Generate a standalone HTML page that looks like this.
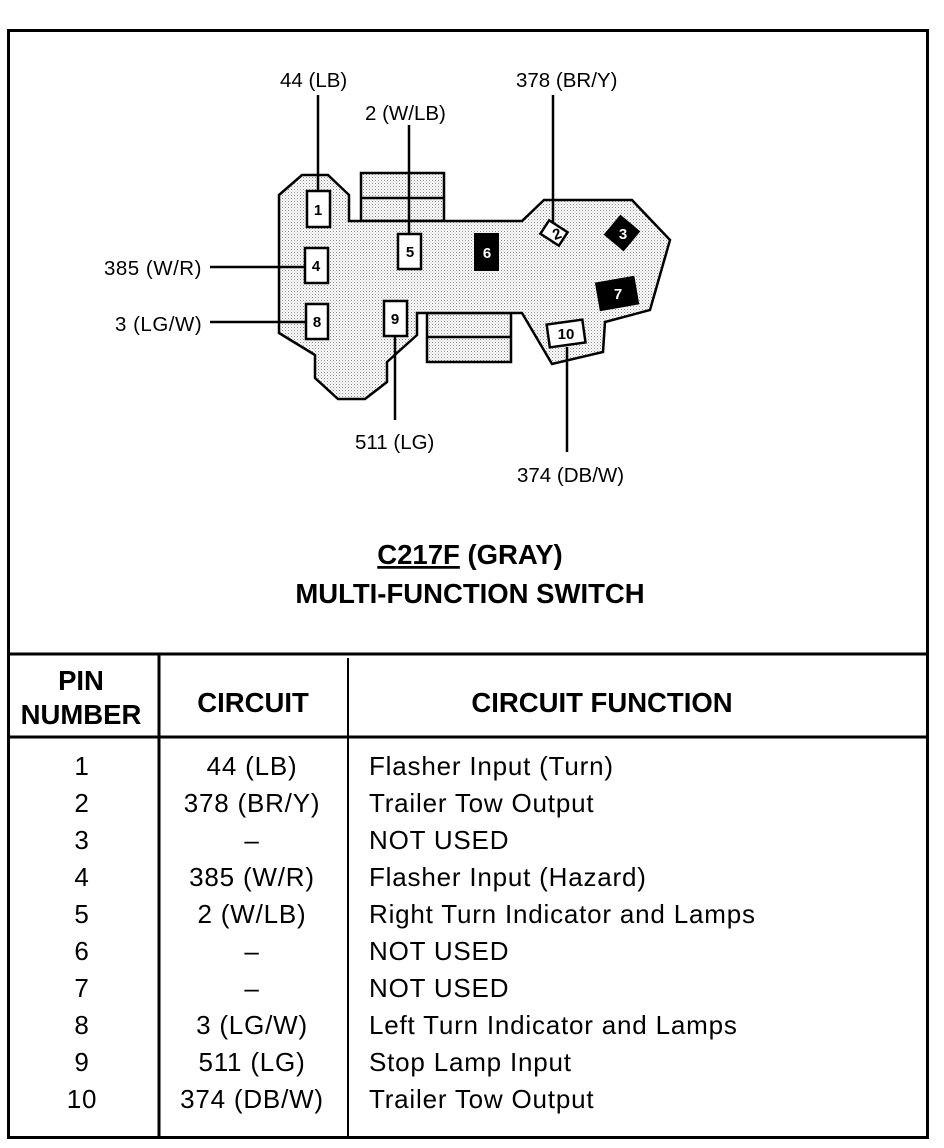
<!DOCTYPE html>
<html><head><meta charset="utf-8"><style>
html,body{margin:0;padding:0;background:#fff;}
svg{display:block;font-family:"Liberation Sans",Arial,sans-serif;}
</style></head><body>
<svg width="944" height="1148" viewBox="0 0 944 1148" xmlns="http://www.w3.org/2000/svg">
<defs>
<pattern id="dots" width="3" height="3" patternUnits="userSpaceOnUse">
<rect width="3" height="3" fill="#fff"/><rect x="0" y="0" width="1" height="1" fill="#888"/><rect x="1.5" y="1.5" width="1" height="1" fill="#aaa"/>
</pattern>
</defs>
<rect x="8.5" y="30.5" width="919" height="1107" fill="none" stroke="#000" stroke-width="3"/>
<line x1="8" y1="654" x2="928" y2="654" stroke="#000" stroke-width="3"/>
<line x1="8" y1="737" x2="928" y2="737" stroke="#000" stroke-width="3"/>
<line x1="159" y1="654" x2="159" y2="1138" stroke="#000" stroke-width="3"/>
<line x1="348" y1="658" x2="348" y2="1138" stroke="#000" stroke-width="2"/>

<rect x="361" y="173" width="83" height="48" fill="url(#dots)" stroke="#000" stroke-width="2.5"/>
<line x1="361" y1="198" x2="444" y2="198" stroke="#000" stroke-width="2.5"/>
<rect x="427" y="313" width="84" height="49" fill="url(#dots)" stroke="#000" stroke-width="2.5"/>
<line x1="427" y1="337" x2="511" y2="337" stroke="#000" stroke-width="2.5"/>
<polygon points="279,195 302,175 328,175 349,195 349,221 522,221 544,200 632,200 670,240 650,310 605,322 603,352 552,364 522,313 417,313 417,335 387,362 387,382 365,399 338,399 315,378 315,355 279,333" fill="url(#dots)" stroke="#000" stroke-width="2.5"/>

<g stroke="#000" stroke-width="2.5">
<line x1="318" y1="95" x2="318" y2="191"/>
<line x1="409" y1="125" x2="409" y2="234"/>
<line x1="553" y1="95" x2="553" y2="222"/>
<line x1="210" y1="267" x2="305" y2="267"/>
<line x1="210" y1="322" x2="306" y2="322"/>
<line x1="395" y1="336" x2="395" y2="420"/>
<line x1="567" y1="347" x2="567" y2="452"/>
</g>

<g stroke="#000" stroke-width="2.5" fill="#fff">
<rect x="307" y="191" width="23" height="36"/>
<rect x="305" y="248" width="23" height="35"/>
<rect x="306" y="304" width="22" height="35"/>
<rect x="398" y="234" width="23" height="35"/>
<rect x="384" y="301" width="23" height="35"/>
<rect x="543" y="225" width="22" height="16" transform="rotate(33 554 233)"/>
<rect x="548" y="322" width="36" height="23" transform="rotate(-8 566 333)"/>
</g>
<rect x="474" y="233" width="25" height="38" fill="#000"/>
<rect x="609" y="220" width="26" height="26" fill="#000" transform="rotate(40 622 233)"/>
<rect x="597" y="279" width="40" height="29" fill="#000" transform="rotate(-10 617 293)"/>
<g font-size="15" font-weight="bold" text-anchor="middle">
<text x="318" y="215">1</text>
<text x="316" y="271">4</text>
<text x="317" y="327">8</text>
<text x="410" y="257">5</text>
<text x="395" y="324">9</text>
<text x="557" y="239" transform="rotate(-20 557 234)">2</text>
<text x="566" y="339">10</text>
<text x="487" y="258" fill="#fff">6</text>
<text x="623" y="239" fill="#fff">3</text>
<text x="618" y="299" fill="#fff">7</text>
</g>

<g font-size="20.5">
<text x="280" y="87">44 (LB)</text>
<text x="365" y="120">2 (W/LB)</text>
<text x="516" y="87">378 (BR/Y)</text>
<text x="104" y="275" letter-spacing="0.5">385 (W/R)</text>
<text x="115" y="331" letter-spacing="0.5">3 (LG/W)</text>
<text x="355" y="449">511 (LG)</text>
<text x="517" y="482">374 (DB/W)</text>
</g>
<g font-size="27.5" font-weight="bold" text-anchor="middle">
<text x="470" y="564"><tspan text-decoration="underline">C217F</tspan> (GRAY)</text>
<text x="470" y="603">MULTI-FUNCTION SWITCH</text>
<text x="81" y="690">PIN</text>
<text x="81" y="724">NUMBER</text>
<text x="253" y="712">CIRCUIT</text>
<text x="602" y="712">CIRCUIT FUNCTION</text>
</g>
<g font-size="26" letter-spacing="0.8">
<g text-anchor="middle">
<text x="82" y="775">1</text><text x="82" y="812">2</text><text x="82" y="849">3</text><text x="82" y="886">4</text><text x="82" y="923">5</text><text x="82" y="960">6</text><text x="82" y="997">7</text><text x="82" y="1034">8</text><text x="82" y="1071">9</text><text x="82" y="1108">10</text>
<text x="252" y="775">44 (LB)</text><text x="252" y="812">378 (BR/Y)</text><text x="252" y="849">–</text><text x="252" y="886">385 (W/R)</text><text x="252" y="923">2 (W/LB)</text><text x="252" y="960">–</text><text x="252" y="997">–</text><text x="252" y="1034">3 (LG/W)</text><text x="252" y="1071">511 (LG)</text><text x="252" y="1108">374 (DB/W)</text>
</g>
<text x="369" y="775">Flasher Input (Turn)</text>
<text x="369" y="812">Trailer Tow Output</text>
<text x="369" y="849">NOT USED</text>
<text x="369" y="886">Flasher Input (Hazard)</text>
<text x="369" y="923">Right Turn Indicator and Lamps</text>
<text x="369" y="960">NOT USED</text>
<text x="369" y="997">NOT USED</text>
<text x="369" y="1034">Left Turn Indicator and Lamps</text>
<text x="369" y="1071">Stop Lamp Input</text>
<text x="369" y="1108">Trailer Tow Output</text>
</g>
</svg>
</body></html>
